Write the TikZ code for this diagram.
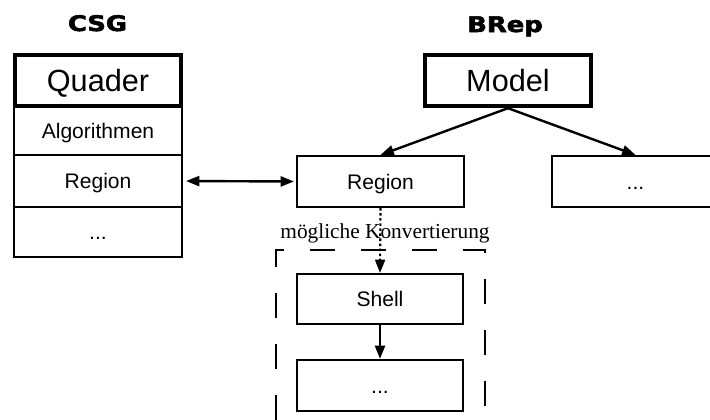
\documentclass[tikz,border=0pt]{standalone}
\usepackage{fontspec}
\setmainfont{Liberation Sans}
\newfontfamily\seriffont{Liberation Serif}
\newfontfamily\titlefont{DejaVu Sans}[FakeBold=2.5]
\usetikzlibrary{arrows.meta}

% one picture unit is 0.75pt; node sizes below are given in pt
\tikzset{
  box/.style={draw, line width=1.6pt, rectangle, inner sep=0pt,
    font=\fontsize{15.8}{18}\selectfont, text height=11.3pt, text depth=0pt},
  headbox/.style={box, line width=3.3pt, font=\fontsize{23}{26}\selectfont,
    text height=16.5pt},
  title/.style={anchor=base, inner sep=0pt, xscale=1.2,
    font=\titlefont\bfseries\fontsize{16.1}{18}\selectfont},
  tip/.style={-{Triangle[length=10pt,width=7.5pt]}},
  link/.style={tip, line width=1.8pt},
  dotline/.style={tip, line width=1.6pt, dash pattern=on 1.9pt off 1.9pt},
  region/.style={line width=1.5pt, dash pattern=on 18.75pt off 19.5pt},
  caption/.style={anchor=base, inner sep=0pt,
    font=\seriffont\fontsize{16}{18}\selectfont}
}

\begin{document}
\begin{tikzpicture}[x=0.75pt, y=-0.75pt]
\useasboundingbox (0,0) rectangle (710,419);
\clip (0,0) rectangle (710,419);
\fill[white] (0,0) rectangle (710,419);

% column titles
\node[title] (csg)  at (97.5,31) {CSG};
\node[title] (brep) at (505,32) {BRep};

% CSG side: stacked rows of the primitive
\node[box, minimum width=126pt, minimum height=36pt]   (algo)    at (98,131) {Algorithmen};
\node[box, minimum width=126pt, minimum height=39pt]   (lregion) at (98,181) {Region};
\node[box, minimum width=126pt, minimum height=37.5pt] (ldots)   at (98,232) {...};
\node[headbox, minimum width=124.5pt, minimum height=38.25pt] (quader) at (98,80.5) {Quader};

% BRep side: topology tree
\node[headbox, minimum width=124.5pt, minimum height=38.25pt] (model) at (508,80.5) {Model};
\node[box, minimum width=125.25pt, minimum height=38.25pt] (rregion) at (380.5,181.5) {Region};
\node[box, minimum width=125.25pt, minimum height=38.25pt] (rdots)   at (635.5,181.5) {...};
\node[box, minimum width=124.5pt, minimum height=37.5pt]   (shell)   at (380,299) {Shell};
\node[box, minimum width=124.5pt, minimum height=38.25pt]  (bdots)   at (380,385.5) {...};

% conversion frame, open towards the bottom
\coordinate (fbl) at (276,471);
\coordinate (ftl) at (276,250);
\coordinate (ftr) at (485,250);
\coordinate (fbr) at (485,471);
\draw[region] (fbl) -- (ftl) -- (ftr) -- (fbr);

\node[caption] (conv) at (385,238) {mögliche Konvertierung};

% connectors
\draw[link] (model.south) -- (rregion.north);
\draw[link] (model.south) -- (rdots.north);
\draw[link, {Triangle[length=10pt,width=7.5pt]}-{Triangle[length=10pt,width=7.5pt]},
  shorten <=2.2pt, shorten >=1.5pt] (lregion.east) -- (rregion.west);
\draw[dotline] (rregion.south) -- (shell.north);
\draw[link] (shell.south) -- (bdots.north);
\end{tikzpicture}
\end{document}
